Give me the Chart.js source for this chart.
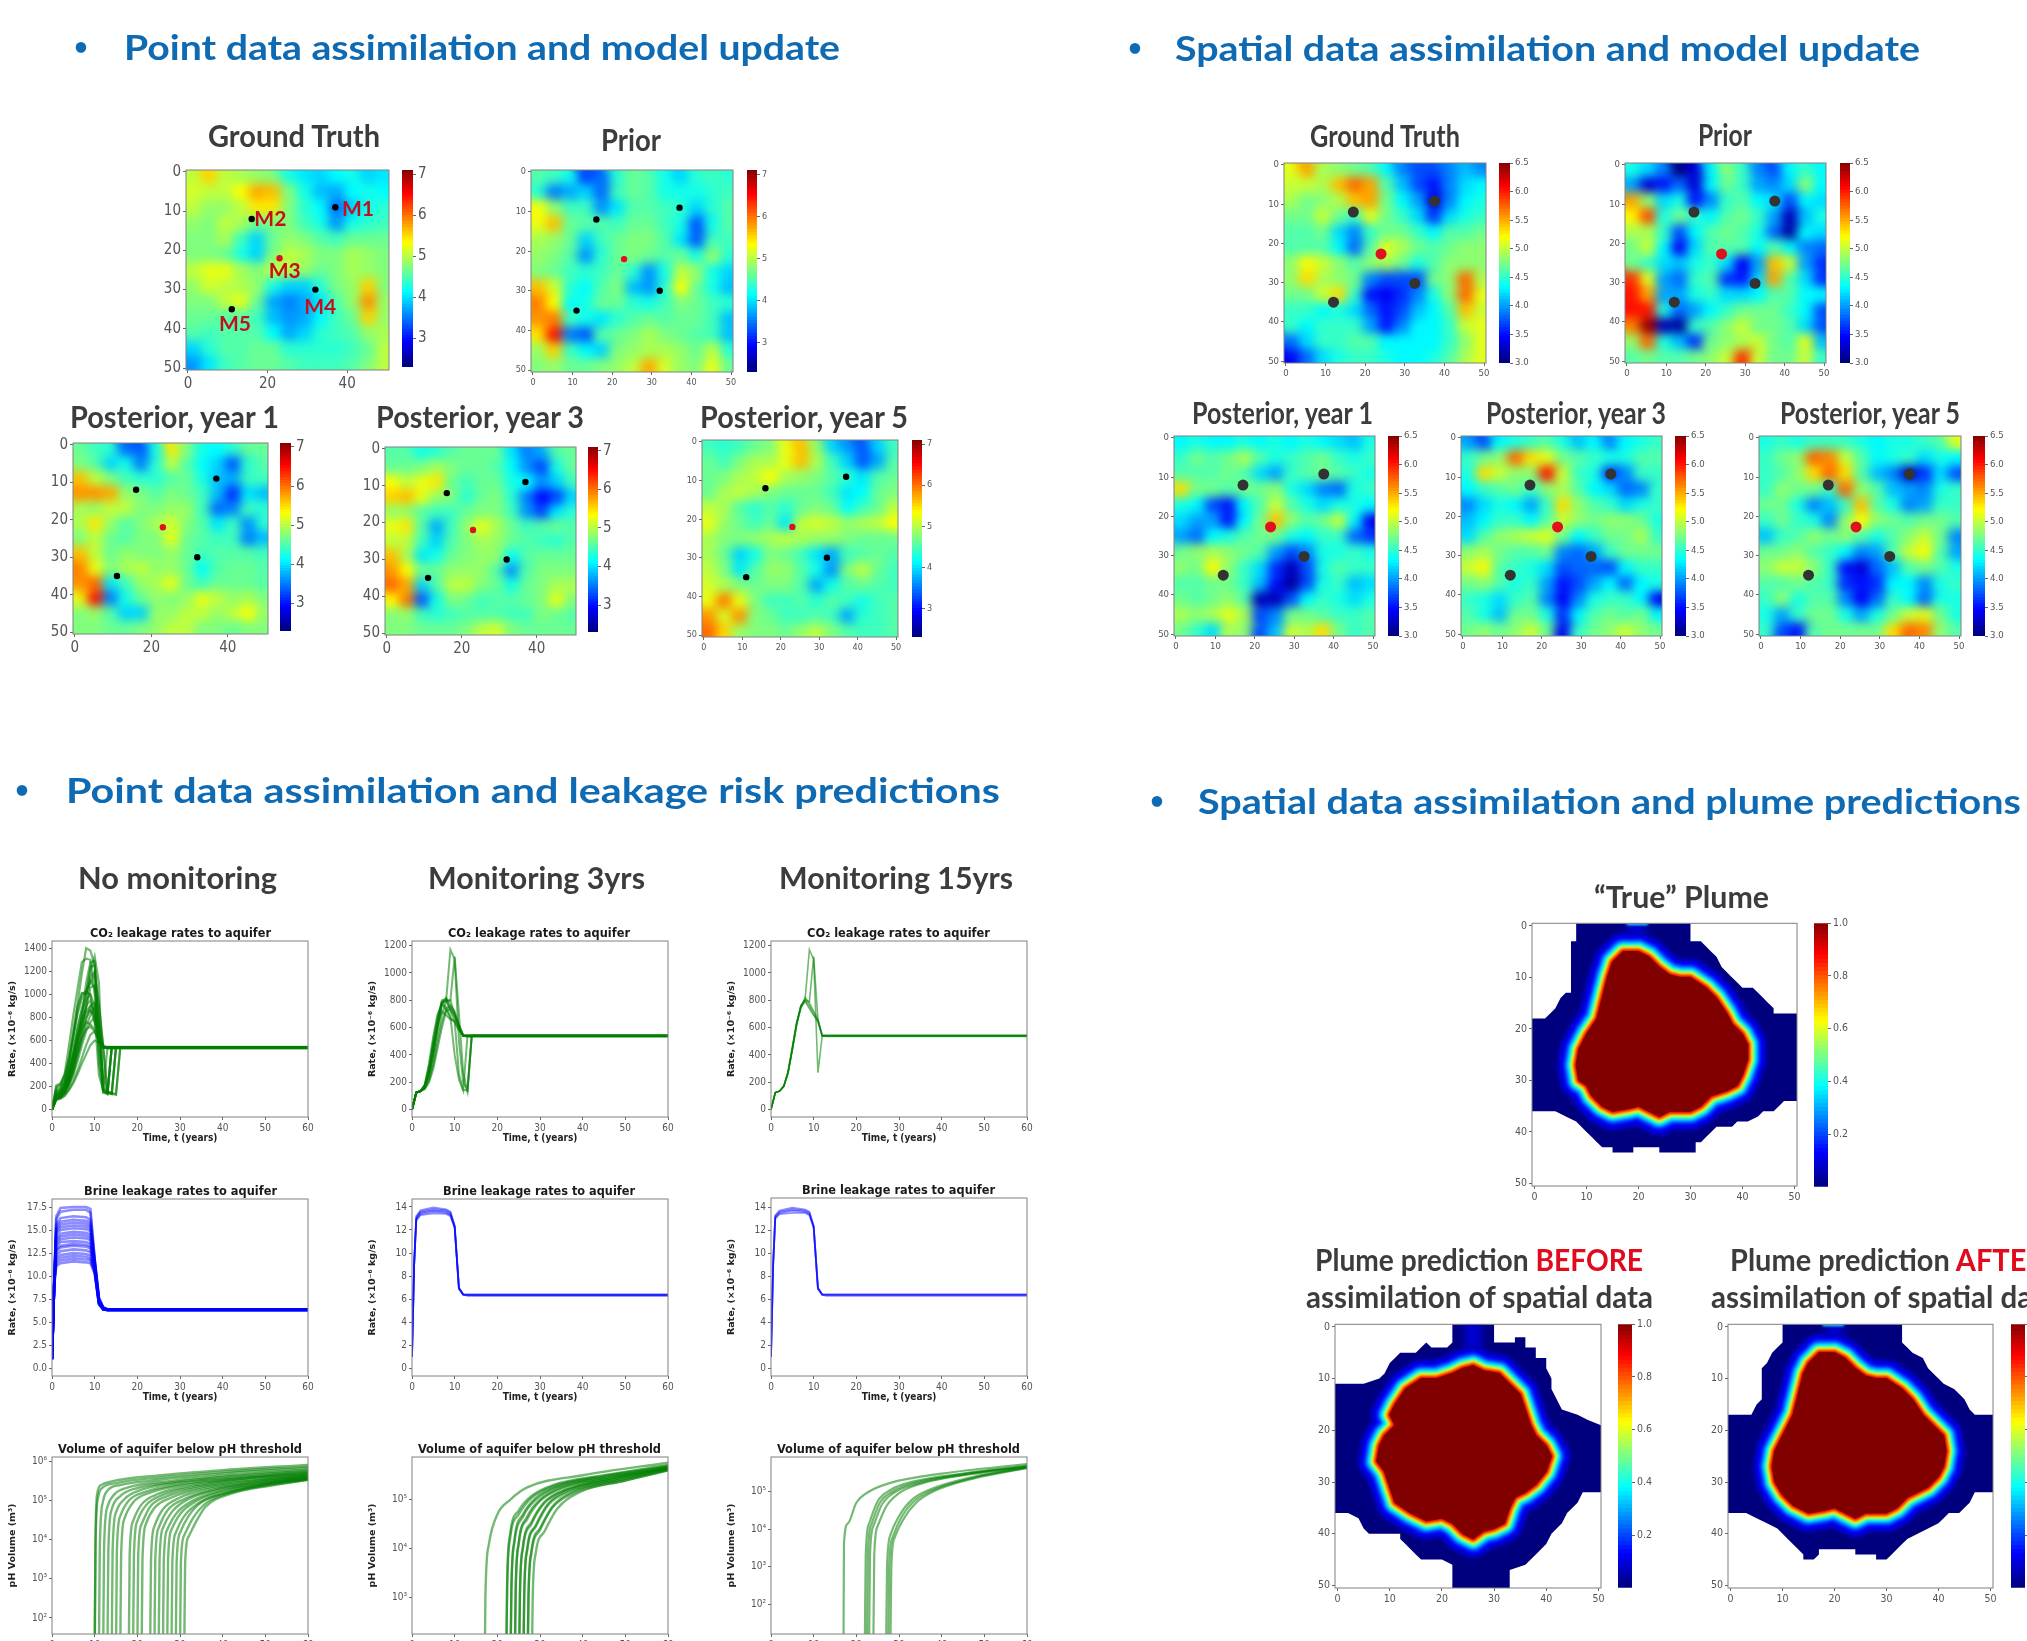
<!DOCTYPE html>
<html>
<head>
<meta charset="utf-8">
<title>Data assimilation and model update</title>
<script src="https://cdn.jsdelivr.net/npm/chart.js@4"></script>
<style>
  html, body { margin: 0; background: #fff; }
  #stage { position: relative; width: 2027px; height: 1641px; overflow: hidden; background: #fff; }
  #stage canvas { position: absolute; }
  .txt { position: absolute; white-space: nowrap; line-height: 1; transform-origin: left center; filter: blur(0.4px); }
</style>
</head>
<body>
<div id="stage"></div>
<script>
// grid nodes of the permeability maps (every 4 cells)
const gridX = [2, 6, 10, 14, 18, 22, 26, 30, 34, 38, 42, 46, 50];
const gridY = [2, 6, 10, 14, 18, 22, 26, 30, 34, 38, 42, 46, 50];

const pointTruth = [
  [5.0,5.5,5.0,4.9,4.8,4.7,4.2,4.0,3.9,4.1,4.2,3.9,4.0],
  [5.1,5.0,5.0,5.3,5.7,5.6,4.7,4.2,3.8,3.7,4.1,4.2,4.1],
  [5.0,4.8,4.8,5.0,5.4,5.4,4.7,4.3,4.1,3.4,3.9,4.2,4.3],
  [4.8,4.7,5.0,4.9,4.6,4.7,4.7,4.4,4.2,3.6,4.2,4.3,4.4],
  [4.7,4.7,4.9,4.4,3.9,4.6,4.8,4.7,4.5,4.4,4.6,4.6,4.6],
  [4.7,4.7,4.6,4.2,3.9,4.7,5.0,4.9,4.7,4.7,4.9,4.8,4.7],
  [5.0,5.2,5.2,4.9,4.7,5.0,5.0,4.8,4.6,4.7,4.9,4.8,4.7],
  [4.8,5.1,5.0,4.9,4.8,4.2,3.9,3.9,4.3,4.7,4.8,5.5,4.7],
  [4.7,4.7,5.0,5.2,4.6,3.7,3.5,3.7,4.0,4.5,4.8,5.8,4.8],
  [4.6,4.6,4.5,4.5,4.4,3.8,3.6,3.7,4.1,4.4,4.6,5.5,4.8],
  [4.5,4.4,4.5,4.5,4.5,4.1,3.7,3.9,4.3,4.4,4.5,4.8,4.9],
  [3.9,4.3,4.5,4.5,4.6,4.6,4.3,4.3,4.3,4.3,4.4,4.6,5.0],
  [3.6,4.0,4.4,4.5,4.6,4.6,4.5,4.4,4.4,4.4,4.5,4.7,5.0],
];
const pointPrior = [
  [4.5,4.4,4.2,3.2,3.4,4.3,4.6,4.5,4.2,3.9,4.3,4.4,4.3],
  [4.3,3.5,3.7,3.9,3.4,4.4,4.6,4.5,4.2,4.2,4.2,4.3,4.4],
  [5.3,4.8,4.4,4.4,3.6,4.0,4.5,4.5,4.4,4.3,3.9,4.3,4.5],
  [5.2,5.6,4.6,4.5,4.5,4.4,4.6,4.6,4.4,4.2,3.3,4.2,4.5],
  [4.9,4.8,4.6,3.9,4.4,4.6,4.7,4.7,4.5,4.0,3.3,4.4,4.4],
  [4.8,4.7,4.5,3.6,4.3,4.6,4.7,4.6,4.5,4.6,4.2,4.8,4.3],
  [4.7,4.6,4.4,4.3,4.4,4.6,4.3,3.6,4.2,5.0,4.8,4.2,3.9],
  [5.6,5.1,4.3,4.1,4.5,4.7,3.8,3.6,4.3,5.3,4.6,4.2,3.8],
  [5.9,5.3,4.1,4.2,4.6,4.6,4.3,4.2,4.4,4.7,4.6,4.4,4.3],
  [5.8,5.9,4.4,4.2,4.0,4.3,4.5,4.6,4.5,4.6,4.6,4.4,3.8],
  [5.4,6.4,3.5,3.3,4.5,4.6,4.7,4.9,4.7,4.6,4.5,4.4,3.8],
  [4.8,5.5,4.4,4.1,3.9,4.7,4.8,4.9,4.9,4.8,4.6,5.0,4.3],
  [4.7,4.8,4.6,4.6,4.7,4.8,5.0,5.7,5.1,4.8,4.7,5.2,4.6],
];
const pointYear1 = [
  [4.6,4.4,4.3,3.4,3.3,4.2,5.4,4.7,4.2,4.1,4.3,4.6,4.6],
  [4.7,4.5,3.9,4.2,3.5,4.3,5.0,4.5,4.1,3.9,3.3,4.3,4.5],
  [5.6,5.0,4.7,4.4,4.3,4.3,4.5,4.6,4.2,3.8,3.7,4.4,4.4],
  [5.8,5.8,5.7,4.8,4.7,4.5,4.7,4.6,4.4,3.8,3.1,4.0,3.8],
  [4.9,4.8,5.0,5.0,4.7,4.7,4.8,4.8,4.4,3.4,3.5,4.4,4.3],
  [4.9,5.4,4.8,4.5,4.7,4.9,5.1,4.7,4.5,4.0,4.4,3.6,4.3],
  [4.7,5.0,4.6,4.5,4.7,4.7,5.2,4.6,4.5,4.4,4.4,3.5,3.8],
  [5.6,5.0,4.6,4.8,4.7,4.7,4.8,4.6,4.4,4.5,4.5,4.5,4.4],
  [5.9,5.2,4.7,4.9,5.0,4.8,4.8,4.6,4.1,4.5,4.6,4.6,4.5],
  [5.8,6.0,4.0,4.4,4.8,4.9,5.2,4.6,4.4,4.6,4.6,4.6,4.5],
  [5.2,6.4,3.5,4.2,4.6,4.8,4.7,4.8,5.2,5.0,4.8,4.9,4.7],
  [4.7,4.8,4.5,3.9,3.9,4.8,4.8,5.0,5.0,4.8,5.0,5.3,4.8],
  [4.7,4.7,4.6,4.6,4.7,4.8,5.0,5.0,4.7,4.7,4.6,4.7,4.7],
];
const pointYear3 = [
  [4.5,4.5,4.2,4.3,4.5,4.6,4.6,4.6,4.0,3.5,3.7,4.5,4.6],
  [4.6,4.6,4.7,4.9,4.7,4.6,4.6,4.5,4.1,3.6,3.2,4.2,4.6],
  [5.3,5.0,5.2,5.4,4.6,4.4,4.6,4.6,4.2,4.1,3.6,3.9,4.4],
  [5.5,5.6,5.2,4.8,4.7,4.3,4.6,4.7,4.3,3.5,2.9,3.2,3.9],
  [4.8,4.8,4.5,4.4,4.4,4.6,4.7,4.7,4.4,3.6,3.2,4.0,4.3],
  [5.2,5.4,4.5,3.7,4.4,4.8,5.2,4.9,4.6,4.4,4.5,4.6,4.5],
  [5.0,5.0,4.4,3.9,4.5,4.7,4.9,4.8,4.6,4.5,4.4,4.3,4.5],
  [5.6,4.9,4.0,4.2,4.6,4.7,4.8,4.8,4.1,4.5,4.6,4.6,4.6],
  [5.8,5.3,4.6,4.6,4.8,4.8,4.8,4.5,3.6,4.5,4.7,4.7,4.7],
  [6.0,5.7,3.9,4.5,5.0,5.0,4.7,4.6,4.2,4.6,4.7,4.9,4.9],
  [5.3,5.9,3.3,4.2,4.7,4.6,4.4,4.5,4.5,4.6,4.7,5.2,4.7],
  [4.7,4.8,4.4,4.3,4.4,4.5,4.5,4.5,4.4,4.4,4.7,4.6,4.5],
  [4.7,4.7,4.6,4.6,4.6,4.7,5.0,5.1,4.7,4.6,4.6,4.6,4.6],
];
const pointYear5 = [
  [4.4,4.3,4.4,4.6,4.7,5.2,5.6,4.8,3.9,3.6,3.3,3.9,4.4],
  [4.6,4.4,4.7,4.9,4.9,5.2,5.6,4.9,4.4,3.9,3.3,3.7,4.5],
  [4.6,4.7,4.9,5.0,5.3,4.9,4.8,4.7,4.5,4.3,4.0,4.5,4.6],
  [4.6,4.9,5.0,4.9,4.7,4.6,4.6,4.6,4.4,4.0,4.1,4.6,4.7],
  [5.0,4.9,4.5,4.3,4.5,4.3,4.6,4.7,4.6,4.1,4.4,4.6,5.0],
  [5.2,4.8,4.6,4.4,4.6,4.0,5.0,5.1,5.0,4.8,4.9,5.0,5.3],
  [4.9,4.7,4.7,4.8,4.9,5.0,4.9,4.8,4.8,4.7,4.6,4.6,4.6],
  [4.9,4.6,3.9,4.2,4.7,4.6,4.4,4.0,3.7,4.4,4.5,4.6,4.5],
  [5.0,4.7,4.0,4.5,4.8,4.8,4.5,4.2,3.6,4.7,5.0,4.6,4.4],
  [5.1,4.9,4.7,4.6,4.7,4.7,4.5,3.7,4.2,4.5,4.6,4.5,4.4],
  [5.2,5.9,5.2,4.7,4.4,4.4,4.5,4.3,4.5,4.4,4.2,4.4,4.5],
  [5.8,5.1,5.8,4.7,4.6,4.4,4.4,4.5,4.4,3.7,4.3,4.4,4.5],
  [6.0,5.5,4.8,4.7,4.7,4.6,4.8,5.0,4.7,4.5,4.4,4.4,4.5],
];
const spatialTruth = [
  [5.1,5.5,4.9,4.8,4.7,4.6,4.3,3.9,3.7,3.7,3.9,4.1,3.9],
  [5.0,5.0,4.9,5.4,5.7,5.5,4.6,4.1,3.7,3.5,3.9,4.2,4.3],
  [4.9,4.7,4.8,4.9,5.4,5.5,4.7,4.3,4.0,3.3,3.9,4.3,4.4],
  [4.7,4.7,5.0,4.7,4.5,5.1,4.7,4.5,4.2,3.6,4.2,4.4,4.5],
  [4.6,4.6,4.7,4.2,3.9,4.5,4.7,4.7,4.5,4.3,4.6,4.6,4.7],
  [4.6,4.6,4.6,4.3,3.8,4.6,5.1,4.9,4.7,4.6,4.7,4.8,4.8],
  [4.8,5.2,5.0,4.8,4.6,4.8,4.9,4.7,4.4,4.6,4.8,4.8,4.8],
  [4.8,5.3,4.9,4.8,4.7,3.9,3.7,3.7,3.7,4.7,4.8,5.7,4.9],
  [4.7,4.7,5.0,5.3,4.5,3.5,3.4,3.6,3.9,4.4,4.8,5.7,5.1],
  [4.5,4.5,4.3,4.4,4.2,3.8,3.5,3.7,4.1,4.3,4.6,5.4,5.0],
  [4.5,4.3,4.5,4.5,4.5,4.0,3.5,3.9,4.3,4.3,4.5,5.0,5.1],
  [3.8,4.2,4.5,4.5,4.6,4.6,4.3,4.3,4.3,4.3,4.5,4.8,5.1],
  [3.4,3.8,4.2,4.4,4.5,4.5,4.4,4.3,4.3,4.4,4.6,4.9,5.1],
];
const spatialPrior = [
  [4.4,4.2,3.9,3.0,3.3,4.3,4.8,4.5,3.9,3.7,4.3,4.5,4.3],
  [4.0,3.3,3.5,3.8,3.3,4.3,4.7,4.5,4.0,3.9,4.2,4.8,4.3],
  [5.5,4.8,4.2,4.4,3.5,3.9,4.5,4.6,4.3,4.2,3.7,4.3,4.2],
  [5.2,5.8,4.4,4.7,4.5,4.3,4.6,4.7,4.5,4.0,3.2,4.1,4.4],
  [4.9,4.9,4.5,3.7,4.3,4.6,4.7,4.6,4.4,3.8,3.1,4.3,4.2],
  [4.7,5.0,4.3,3.4,4.2,4.6,4.6,4.6,4.3,4.6,4.3,3.9,3.8],
  [4.7,4.5,4.2,4.1,4.4,4.5,4.2,3.4,4.0,5.4,5.0,4.0,3.6],
  [5.9,5.1,4.0,3.8,4.5,4.6,3.6,3.5,4.2,5.5,4.6,4.2,3.6],
  [6.0,5.5,4.0,4.0,4.4,4.5,4.2,4.2,4.3,4.6,4.6,4.3,4.3],
  [6.0,6.0,4.4,3.8,4.0,4.3,4.5,4.7,4.7,4.7,4.5,4.3,3.7],
  [5.6,6.4,3.2,3.1,4.5,4.6,4.8,5.0,4.7,4.7,4.6,4.2,3.7],
  [4.8,5.7,4.4,4.1,3.6,4.7,4.8,4.9,5.0,4.7,4.6,5.1,4.1],
  [4.6,4.7,4.6,4.6,4.7,4.8,5.0,5.9,5.0,4.7,4.7,5.0,4.5],
];
const spatialYear1 = [
  [4.3,4.4,4.3,4.3,4.4,4.3,4.4,4.3,4.4,4.3,4.2,4.1,4.4],
  [4.5,4.7,4.6,4.7,4.9,4.6,4.4,4.5,4.6,4.7,4.5,4.4,4.5],
  [4.6,4.6,4.6,4.7,4.6,4.2,4.0,4.5,4.6,4.7,4.6,4.5,4.4],
  [5.3,4.7,4.7,4.6,4.7,4.7,4.8,4.4,4.2,3.9,3.8,4.4,4.5],
  [4.4,4.3,3.7,3.5,4.3,4.6,5.0,4.6,4.4,4.2,4.4,4.4,4.3],
  [4.2,4.0,4.0,3.5,4.3,4.7,5.4,4.8,4.6,4.7,5.0,4.3,3.4],
  [4.0,3.8,4.3,4.4,4.6,4.7,4.7,4.4,4.3,4.5,4.5,3.8,3.6],
  [4.7,4.8,4.9,4.8,4.7,4.6,4.0,3.7,3.9,4.4,4.4,4.5,4.4],
  [4.8,4.7,5.2,4.8,4.5,4.2,3.6,3.2,3.7,4.4,4.6,4.5,4.5],
  [4.6,4.6,4.7,4.7,4.5,4.1,3.5,3.1,3.7,4.4,4.5,4.1,4.2],
  [4.7,4.6,4.7,4.8,4.6,3.2,3.2,3.7,4.3,4.5,4.4,4.2,4.4],
  [4.9,4.8,4.9,5.1,4.9,3.7,3.9,4.7,4.7,4.6,4.5,4.5,4.6],
  [4.7,4.5,4.2,4.9,4.8,3.7,4.1,5.0,4.9,5.3,4.7,4.5,4.6],
];
const spatialYear3 = [
  [4.0,3.7,4.3,4.4,4.5,4.6,4.4,4.1,4.3,3.9,4.3,4.4,4.5],
  [4.5,4.7,4.8,5.7,5.3,5.1,4.7,4.6,4.5,4.4,4.4,4.6,4.6],
  [4.4,5.3,5.0,4.8,4.8,6.0,5.0,4.5,4.4,3.6,3.9,4.5,4.5],
  [4.3,4.5,4.6,4.7,4.5,4.8,4.9,4.6,4.3,4.2,3.8,3.9,4.5],
  [3.9,4.2,4.4,4.3,4.0,4.5,5.3,4.8,4.6,4.5,4.2,4.4,4.5],
  [4.1,4.3,4.5,4.5,4.3,4.6,5.0,4.8,4.7,4.8,4.8,4.7,4.4],
  [4.2,4.6,4.8,4.9,5.0,5.1,4.7,4.3,4.5,4.7,4.7,4.9,4.5],
  [4.8,4.9,4.7,4.6,4.6,4.7,3.9,3.8,4.0,4.5,4.7,4.7,4.7],
  [5.0,5.2,4.6,4.5,4.4,4.2,3.7,3.8,3.8,3.7,4.3,4.5,4.5],
  [4.7,4.8,4.6,4.4,4.5,4.0,3.5,3.7,4.0,4.3,3.8,4.3,4.4],
  [4.5,4.4,4.2,4.5,4.6,3.9,3.4,3.9,4.4,4.5,4.5,4.3,3.4],
  [4.6,4.4,4.1,4.7,4.7,4.4,3.6,4.3,4.6,4.7,4.6,4.7,4.3],
  [4.7,4.8,4.7,4.8,5.0,4.7,3.4,4.5,4.7,4.8,5.0,4.8,4.7],
];
const spatialYear5 = [
  [4.4,4.5,4.4,4.5,4.5,4.5,4.4,4.3,4.4,4.4,4.5,4.6,5.1],
  [4.5,4.7,4.8,5.7,5.6,5.0,4.6,4.3,4.4,4.5,4.2,4.4,4.3],
  [4.5,4.6,4.8,5.3,5.7,5.3,4.6,4.1,3.9,3.2,3.6,4.2,3.7],
  [4.5,4.8,4.7,4.7,4.5,5.7,4.8,4.6,4.1,4.0,3.9,4.4,4.5],
  [4.7,4.7,4.4,3.9,4.1,4.5,5.4,4.6,4.4,3.9,4.0,4.5,4.5],
  [4.5,4.7,4.5,4.4,3.9,4.8,5.2,4.8,4.7,4.6,4.7,4.7,4.6],
  [4.1,4.5,4.6,4.8,4.7,4.8,4.6,4.4,4.6,4.8,5.0,4.7,3.9],
  [4.7,4.7,4.8,4.6,4.5,4.3,3.9,4.0,4.6,5.0,5.2,4.6,4.0],
  [4.8,5.0,5.0,4.8,4.5,3.5,3.3,3.8,4.1,4.6,4.7,4.6,4.4],
  [4.6,4.6,4.7,4.6,4.5,3.6,3.5,3.6,4.3,4.3,3.9,4.4,4.5],
  [4.5,4.8,4.4,4.6,4.6,3.9,3.4,3.8,4.5,4.3,3.8,4.4,4.4],
  [4.4,4.0,4.5,4.7,4.7,4.4,4.0,4.4,4.7,5.0,5.1,4.7,4.4],
  [4.5,3.7,3.5,4.6,4.7,4.7,4.7,4.7,5.3,5.7,5.6,4.8,4.6],
];

// monitoring wells and the injection well
const wellsPoint = [[37, 9], [16, 12], [32, 30], [11, 35]];
const injectorPoint = [[23, 22]];
const wellsSpatial = [[37.5, 9.2], [17, 12], [32.5, 30.2], [12, 35]];
const injectorSpatial = [[24, 22.7]];
const wellNames = [["M1", 42.7, 9.5], ["M2", 20.7, 12], ["M3", 24.3, 25.4], ["M4", 33.2, 34.6], ["M5", 11.8, 38.8]];

// CO2 leakage rates
const co2Time = [0,1,2,3,4,5,6,7,8,9,10,11,12,13,14,15,16,20,60];
const co2None = [
  [0,200,220,320,560,820,1050,1280,1310,1300,1000,500,160,140,540,540,540,540,540],
  [0,180,210,290,460,690,920,1180,1400,1380,1250,400,150,150,140,540,540,540,540],
  [0,120,150,230,400,650,900,1010,1020,1000,760,620,150,135,540,540,540,540,540],
  [0,150,180,260,420,620,860,1010,1000,1200,1330,1100,180,150,140,130,540,540,540],
  [0,100,120,170,260,400,600,820,1100,1280,1290,700,160,540,540,540,540,540,540],
  [0,110,130,180,290,440,620,800,1000,1240,1250,900,540,150,140,540,540,540,540],
  [0,90,110,150,240,360,520,700,900,1150,1200,640,540,160,150,135,540,540,540],
  [0,130,150,210,330,500,700,860,950,1000,900,650,540,535,535,535,535,535,535],
  [0,100,110,150,230,340,480,640,780,900,860,620,545,540,540,540,540,540,540],
  [0,120,140,190,300,430,600,740,840,870,760,600,540,540,540,540,540,540,540],
  [0,95,105,140,210,300,420,560,680,760,800,640,545,540,540,540,540,540,540],
  [0,140,170,230,340,480,620,700,760,740,700,590,540,545,545,545,545,545,545],
  [0,90,100,130,180,250,340,450,560,650,680,610,540,540,540,540,540,540,540],
  [0,85,95,120,170,230,310,400,480,560,600,580,540,535,535,535,535,535,535],
  [0,105,125,170,250,360,500,620,700,720,680,590,535,540,540,540,540,540,540],
  [0,115,135,180,270,390,540,660,800,860,820,640,540,540,540,540,540,540,540],
  [0,125,150,200,310,470,650,780,900,950,820,300,170,140,540,540,540,540,540],
  [0,100,120,165,250,380,560,730,880,1060,1080,780,200,150,540,540,540,540,540],
  [0,210,230,300,440,640,830,960,1040,1100,1180,900,560,540,540,540,540,540,540],
  [0,160,190,250,360,520,720,880,1000,1120,1050,720,545,540,540,540,540,540,540],
  [0,105,115,150,220,320,460,600,720,820,900,700,300,150,135,540,540,540,540],
  [0,135,160,215,320,460,640,790,860,900,930,660,550,535,535,535,535,535,535],
];
const co2ThreeYears = [
  [0,125,135,165,250,400,600,780,820,760,700,620,545,540,540,540,540,540,540],
  [0,125,135,175,300,480,660,800,810,730,680,600,540,535,535,535,535,535,535],
  [0,125,135,185,340,540,700,770,730,670,640,580,540,540,540,540,540,540,540],
  [0,125,135,160,230,360,540,700,790,800,700,600,540,545,545,545,545,545,545],
  [0,125,135,155,215,330,490,640,740,760,720,620,540,540,540,540,540,540,540],
  [0,125,135,170,270,430,620,720,690,660,650,590,540,535,535,535,535,535,535],
  [0,125,135,170,280,440,620,780,800,1170,1100,500,200,140,540,540,540,540,540],
  [0,125,135,165,260,420,610,770,800,800,1120,700,270,135,540,540,540,540,540],
  [0,125,135,175,300,470,640,790,800,720,650,260,145,140,540,540,540,540,540],
  [0,125,135,180,320,510,680,780,750,680,400,220,140,540,540,540,540,540,540],
  [0,125,135,150,200,300,450,600,720,740,690,610,545,540,540,540,540,540,540],
];
const co2FifteenYears = [
  [0,125,135,175,280,460,640,760,800,760,700,640,540,540,540,540,540,540,540],
  [0,125,135,170,270,440,620,740,820,780,720,660,540,535,535,535,535,535,535],
  [0,125,135,170,275,450,630,750,790,740,690,650,545,545,545,545,545,545,545],
  [0,125,135,170,270,440,620,760,810,1170,1100,270,540,540,540,540,540,540,540],
  [0,125,135,170,270,440,620,760,800,790,1120,660,540,540,540,540,540,540,540],
];

// brine leakage rates
const brineTime = [0,0.5,1,2,5,8,9,10,11,12,13,60];
const brineNone = [
  [1,9,16.5,17.4,17.5,17.5,17.3,11.9,7.7,6.6,6.4,6.4],
  [1,9,16.2,17.0,17.2,17.2,16.9,11.8,7.6,6.6,6.4,6.4],
  [1,9,15.6,16.3,16.5,16.4,16.1,11.7,7.5,6.6,6.3,6.3],
  [1,9,15.3,15.9,16.1,16.0,15.8,11.6,7.5,6.6,6.4,6.4],
  [1,9,15.0,15.6,15.8,15.7,15.5,11.5,7.4,6.5,6.4,6.4],
  [1,9,14.8,15.3,15.5,15.4,15.2,11.4,7.4,6.5,6.3,6.3],
  [1,9,14.5,15.0,15.2,15.1,14.9,11.3,7.3,6.5,6.4,6.4],
  [1,9,14.1,14.6,14.8,14.7,14.5,11.2,7.3,6.5,6.4,6.4],
  [1,9,13.8,14.3,14.5,14.4,14.2,11.1,7.3,6.5,6.3,6.3],
  [1,9,13.5,14.0,14.2,14.1,13.9,11.0,7.2,6.5,6.4,6.4],
  [1,9,13.2,13.7,13.8,13.7,13.5,10.9,7.2,6.5,6.4,6.4],
  [1,9,12.9,13.3,13.5,13.4,13.2,10.8,7.1,6.5,6.3,6.3],
  [1,9,12.7,13.1,13.3,13.2,13.0,10.8,7.1,6.4,6.4,6.4],
  [1,9,12.3,12.7,12.9,12.8,12.6,10.7,7.1,6.4,6.4,6.4],
  [1,9,12.0,12.3,12.5,12.4,12.2,10.6,7.0,6.4,6.3,6.3],
  [1,9,11.7,12.0,12.2,12.1,11.9,10.5,7.0,6.4,6.4,6.4],
  [1,9,11.4,11.7,11.9,11.8,11.7,10.4,7.0,6.4,6.4,6.4],
  [1,9,11.1,11.4,11.6,11.5,11.4,10.3,6.9,6.4,6.4,6.4],
];
const brineThreeYears = [
  [1,9,13.2,13.7,13.95,13.8,13.6,12.4,7.0,6.4,6.4,6.4],
  [1,9,13.1,13.6,13.8,13.7,13.5,12.3,7.0,6.4,6.3,6.3],
  [1,9,13.0,13.5,13.7,13.6,13.4,12.3,6.9,6.4,6.4,6.4],
  [1,9,12.9,13.4,13.6,13.5,13.3,12.2,6.9,6.4,6.4,6.4],
  [1,9,12.8,13.3,13.45,13.4,13.2,12.2,6.9,6.4,6.3,6.3],
];
const brineFifteenYears = [
  [1,9,13.3,13.7,13.95,13.8,13.6,12.4,7.0,6.4,6.4,6.4],
  [1,9,13.2,13.6,13.8,13.7,13.5,12.3,7.0,6.4,6.3,6.3],
  [1,9,13.1,13.5,13.7,13.6,13.4,12.3,6.9,6.4,6.4,6.4],
  [1,9,13.0,13.4,13.5,13.5,13.3,12.2,6.9,6.4,6.4,6.4],
];

// aquifer volume below pH threshold, [year, m3] pairs
const volumeNone = [
  [[10,10],[10.2,1e4],[10.6,1.5e5],[11.5,2.5e5],[14,3.1e5],[25,4.4e5],[40,6e5],[60,8.2e5]],
  [[10,10],[10.2,8e3],[10.8,1.2e5],[12,2.2e5],[15,2.8e5],[25,3.9e5],[40,5.4e5],[60,7.4e5]],
  [[11,10],[11.2,6e3],[11.9,9e4],[13,1.8e5],[16,2.5e5],[25,3.4e5],[40,4.9e5],[60,6.8e5]],
  [[12,10],[12.2,6e3],[13,7e4],[14.5,1.4e5],[18,2.2e5],[28,3.2e5],[42,4.5e5],[60,6.2e5]],
  [[13,10],[13.2,5e3],[14,6e4],[16,1.3e5],[20,2.1e5],[28,2.9e5],[42,4.2e5],[60,5.8e5]],
  [[14,10],[14.2,5e3],[15,5e4],[17,1.1e5],[21,1.9e5],[30,2.9e5],[44,4e5],[60,5.5e5]],
  [[15,10],[15.2,5e3],[16,4e4],[18,1e5],[22,1.7e5],[30,2.6e5],[44,3.8e5],[60,5.2e5]],
  [[16,10],[16.2,4e3],[17,3.5e4],[19,9e4],[23,1.6e5],[31,2.5e5],[45,3.7e5],[60,5e5]],
  [[18,10],[18.2,4e3],[19,3e4],[21,8e4],[25,1.5e5],[32,2.3e5],[45,3.6e5],[60,4.8e5]],
  [[19,10],[19.2,4e3],[20,3e4],[22,7.5e4],[26,1.4e5],[33,2.2e5],[46,3.4e5],[60,4.6e5]],
  [[20,10],[20.2,4e3],[21,2.5e4],[23,7e4],[27,1.3e5],[34,2.1e5],[46,3.2e5],[60,4.4e5]],
  [[21,10],[21.2,3e3],[22,2.5e4],[24,6.5e4],[28,1.2e5],[35,2e5],[47,3.1e5],[60,4.3e5]],
  [[23,10],[23.2,3e3],[24,2.2e4],[26,6e4],[30,1.2e5],[36,1.9e5],[48,3e5],[60,4.2e5]],
  [[24,10],[24.2,3e3],[25,2e4],[27,5.5e4],[31,1.1e5],[37,1.8e5],[48,2.9e5],[60,4e5]],
  [[25,10],[25.2,3e3],[26,2e4],[28,5e4],[32,1.1e5],[38,1.8e5],[49,2.8e5],[60,3.9e5]],
  [[26,10],[26.2,3e3],[27,1.8e4],[29,4.5e4],[33,1e5],[39,1.7e5],[49,2.7e5],[60,3.8e5]],
  [[27,10],[27.2,3e3],[28,1.8e4],[30,4.5e4],[34,1e5],[40,1.7e5],[50,2.7e5],[60,3.7e5]],
  [[28,10],[28.2,2.5e3],[29,1.5e4],[31,4e4],[35,9.5e4],[41,1.6e5],[50,2.6e5],[60,3.6e5]],
  [[29,10],[29.2,2.5e3],[30,1.5e4],[32,4e4],[35,9e4],[41,1.6e5],[50,2.5e5],[60,3.5e5]],
  [[30,10],[30.2,2.5e3],[31,1.3e4],[33,3.5e4],[36,8.5e4],[42,1.6e5],[51,2.5e5],[60,3.4e5]],
  [[31,10],[31.2,2.5e3],[32,1.2e4],[34,3.2e4],[36,7e4],[42,1.5e5],[51,2.4e5],[60,3.4e5]],
];
const volumeThreeYears = [
  [[17,10],[17.2,1e3],[18,1.2e4],[20,5e4],[23,1e5],[27,1.8e5],[40,3.2e5],[60,5.8e5]],
  [[22,10],[22.3,2e3],[23,2e4],[25,6e4],[28,1.2e5],[33,2e5],[45,3.2e5],[60,5.2e5]],
  [[22,10],[22.3,1.5e3],[23,1.6e4],[25,5e4],[28,1.1e5],[33,1.9e5],[45,3.1e5],[60,5e5]],
  [[23,10],[23.3,1.5e3],[24,1.5e4],[26,5e4],[29,1.1e5],[34,1.9e5],[45,3e5],[60,4.8e5]],
  [[23,10],[23.3,1.5e3],[24,1.3e4],[26,4.5e4],[29,1e5],[34,1.8e5],[46,2.9e5],[60,4.7e5]],
  [[24,10],[24.3,1.5e3],[25,1.3e4],[27,4.5e4],[30,1e5],[35,1.8e5],[46,2.9e5],[60,4.6e5]],
  [[24,10],[24.3,1.2e3],[25,1.2e4],[27,4e4],[30,9.5e4],[35,1.7e5],[47,2.8e5],[60,4.5e5]],
  [[25,10],[25.3,1.2e3],[26,1.1e4],[28,3.5e4],[31,9e4],[36,1.6e5],[47,2.8e5],[60,4.5e5]],
  [[25,10],[25.3,1.2e3],[26,1e4],[28,3.2e4],[31,8.5e4],[36,1.6e5],[48,2.7e5],[60,4.4e5]],
  [[26,10],[26.3,1.2e3],[27,1e4],[29,3e4],[32,8.5e4],[37,1.6e5],[48,2.7e5],[60,4.4e5]],
  [[26,10],[26.3,1e3],[27,9e3],[29,2.8e4],[32,8e4],[37,1.5e5],[49,2.6e5],[60,4.3e5]],
  [[27,10],[27.3,1e3],[28,9e3],[30,2.6e4],[33,7.5e4],[38,1.5e5],[49,2.6e5],[60,4.2e5]],
  [[27,10],[27.3,1e3],[28,8e3],[30,2.4e4],[33,7e4],[38,1.4e5],[50,2.5e5],[60,4.1e5]],
  [[28,10],[28.3,1e3],[29,8e3],[31,2.2e4],[34,6.5e4],[39,1.4e5],[50,2.5e5],[60,4e5]],
];
const volumeFifteenYears = [
  [[17,10],[17.1,4e3],[18,1.4e4],[20,5e4],[23,1e5],[28,1.7e5],[40,3e5],[60,5.4e5]],
  [[22,10],[22.2,2e3],[23,1.4e4],[25,5.5e4],[28,1.1e5],[33,1.8e5],[45,3e5],[60,4.9e5]],
  [[22.5,10],[22.7,2e3],[23.5,1.3e4],[25.5,5e4],[28.5,1e5],[33.5,1.7e5],[45,2.9e5],[60,4.7e5]],
  [[23,10],[23.2,2e3],[24,1.2e4],[26,4.5e4],[29,9.5e4],[34,1.6e5],[45,2.8e5],[60,4.6e5]],
  [[24,10],[24.2,2e3],[25,1.2e4],[27,4e4],[30,9e4],[35,1.6e5],[46,2.8e5],[60,4.5e5]],
  [[27,10],[27.2,1e3],[28,7e3],[30,2.2e4],[33,6e4],[37,1.1e5],[47,2.4e5],[60,4.4e5]],
  [[27.5,10],[27.7,1e3],[28.5,6e3],[30.5,2e4],[33.5,5.5e4],[38,1.1e5],[48,2.4e5],[60,4.3e5]],
  [[28,10],[28.2,1e3],[29,6e3],[31,1.8e4],[34,5e4],[38,1e5],[48,2.3e5],[60,4.2e5]],
];

// plume outlines in grid cells: the masked region and the saturated core
const truePlumeMask = [[8,-0.5],[30,-0.5],[30,3],[32,3],[33,4],[34,5],[35,6],[36,8],[37,9],[38,10],[39,11],[40,12],[42,12],[43,13],[44,14],[45,15],[46,16],[46,17],[50.5,17],[50.5,34],[48,34],[47,35],[46,36],[44,36],[43,37],[41,38],[39,38],[38,39],[35,39],[34,40],[33,41],[32,42],[31,42],[31,44],[24,44],[24,43],[19,43],[19,44],[15,44],[15,43],[13,43],[12,42],[11,41],[10,40],[9,39],[8,38],[6,37],[4,36],[-0.5,36],[-0.5,18],[2,18],[3,17],[4,16],[5,14],[6,13],[7,13],[7,3],[8,3],[8,-0.5]];
const truePlumeCore = [[20,5],[22,6],[24,8],[26,9.5],[28,10],[30,10],[33,12],[35,14],[37,17],[38,19],[40,21],[41,23],[41,26],[40,29],[39,31],[37,32],[34,33],[32,35],[30,36],[28,36],[26,36],[24,37],[22,36],[20,35],[18,35.5],[15,36],[13,35],[11,33],[10,31],[8.5,30],[8,27],[8.5,24],[10,21],[12,18],[13,14],[14,10],[15,7],[17,5],[20,5]];
const beforePlumeMask = [[22,-0.5],[30,-0.5],[30,3],[34,3],[34,2],[36,2],[36,4],[38,4],[38,6],[40,6],[40,8],[41,10],[41,12],[42,14],[43,16],[46,17],[48,18],[50.5,19],[50.5,32],[47,32],[46,34],[44,36],[43,38],[41,40],[40,42],[38,44],[36,46],[33,47],[33,50.5],[22,50.5],[22,46],[20,45],[16,45],[15,44],[14,43],[13,42],[12,41],[12,40],[6,40],[5,39],[4,37],[2,36],[-0.5,36],[-0.5,11],[5,11],[8,10],[9,9],[10,7],[11,6],[12,5],[15,5],[16,4],[17,3],[18,4],[21,4],[22,3],[22,-0.5]];
const beforePlumeCore = [[26,7.5],[28,8.5],[31,9],[33,11],[35,13],[36,16],[37,19],[38,21],[40,23],[41,25],[40,28],[38,30.5],[36,32],[34,33],[33,35],[32,38],[30,39],[28,39.5],[26,41],[24,40],[22,38],[20,37],[17,37.5],[14,36],[11,34],[10,31],[9,28],[7.5,26],[8,23],[9,21],[11,19],[10,17],[11,15],[13,12],[16,10],[19,10],[22,9],[24,8],[26,7.5]];
const afterPlumeMask = [[10,-0.5],[33,-0.5],[33,3],[34,4],[35,5],[37,6],[38,8],[39,9],[40,10],[41,11],[43,12],[44,13],[45,14],[46,16],[47,17],[50.5,17],[50.5,32],[47,32],[46,34],[45,35],[44,36],[42,36],[41,37],[40,38],[38,39],[36,40],[34,41],[33,42],[32,43],[31,44],[30,45],[28,45],[28,44],[24,44],[24,43],[17,43],[17,44],[16,45],[14,45],[14,44],[13,43],[11,41],[10,40],[9,39],[7,38],[5,37],[3,36],[-0.5,36],[-0.5,17],[4,17],[5,15],[6,14],[6,8],[7,7],[8,5],[9,4],[10,3],[10,-0.5]];
const afterPlumeCore = [[20,5],[22,6],[24,8],[26,9.5],[28,10],[30,10],[33,12],[35,14],[37,17],[39,19],[41,21],[41.5,24],[41,27],[40,29],[38,31],[36,32],[34,33],[32,35],[30,36],[28,36],[26,36],[24,37],[22,36],[20,35],[18,35.5],[15,36],[12,34.5],[10,32.5],[8.5,30],[8,27],[8.5,24],[10,21],[12,17],[13,13],[14,9],[15,7],[17,5],[20,5]];
const truePlumeInlet = [[19.5,-0.5],[19.5,5]];
const beforePlumeInlet = [[26,-0.5],[26,8]];
const afterPlumeInlet = [[20,-0.5],[20,5]];

const stage = document.getElementById("stage");
const GREY = "#555";
const NARROW = "'Liberation Sans Narrow','DejaVu Sans Condensed',sans-serif";

function jet(n) {
  const c = (v) => Math.round(255 * Math.max(0, Math.min(1, 1.5 - Math.abs(v))));
  return `rgb(${c(4 * n - 3)},${c(4 * n - 2)},${c(4 * n - 1)})`;
}

// box around the axes
const framePlugin = {
  id: "frame",
  afterDraw(chart) {
    const a = chart.chartArea, ctx = chart.ctx;
    ctx.save();
    ctx.strokeStyle = "#808080";
    ctx.lineWidth = 1;
    ctx.strokeRect(a.left, a.top, a.right - a.left, a.bottom - a.top);
    ctx.restore();
  },
};

// soft edges for datasets with a blurPx key
const blurPlugin = {
  id: "softEdges",
  beforeDatasetDraw(chart, args) {
    const px = chart.data.datasets[args.index].blurPx;
    chart.ctx.save();
    if (px) chart.ctx.filter = `blur(${px}px)`;
  },
  afterDatasetDraw(chart) {
    chart.ctx.restore();
  },
};

function addCanvas(x, y, w, h) {
  const c = document.createElement("canvas");
  c.width = w;
  c.height = h;
  c.style.left = x + "px";
  c.style.top = y + "px";
  stage.appendChild(c);
  return c;
}

function fixedTicks(values, fontSpec, fmt) {
  return {
    afterBuildTicks: (s) => { s.ticks = values.map((v) => ({ value: v })); },
    ticks: {
      autoSkip: false, maxRotation: 0, minRotation: 0, padding: 2,
      color: GREY, font: fontSpec,
      callback: fmt || ((v) => String(v)),
    },
    grid: { drawOnChartArea: false, tickLength: 3, color: "#666" },
    border: { display: false },
  };
}

function makeChart(rect, m, type, data, scales, plugins) {
  const canvas = addCanvas(rect[0] - m.l, rect[1] - m.t, rect[2] + m.l + m.r, rect[3] + m.t + m.b);
  const options = {
    responsive: false,
    animation: false,
    events: [],
    layout: { autoPadding: false, padding: { top: m.t, right: m.axisRight ? 0 : m.r, left: 0, bottom: m.axisRight ? m.b : 0 } },
    plugins: { legend: { display: false }, tooltip: { enabled: false } },
    scales,
  };
  return new Chart(canvas, { type, data, options, plugins });
}

function imageAxes(rect, m, xTicks, fontSpec) {
  return {
    x: Object.assign({ type: "linear", position: "bottom", min: -0.5, max: 50.5,
      afterFit: (s) => { s.height = m.b; } }, fixedTicks(xTicks, fontSpec)),
    y: Object.assign({ type: "linear", reverse: true, min: -0.5, max: 50.5,
      afterFit: (s) => { s.width = m.l; } }, fixedTicks([0, 10, 20, 30, 40, 50], fontSpec)),
  };
}

function fieldMap(rect, grid, range, wells, injector, xTicks, fontSize, markerR, wellColor, names) {
  const m = { l: 32, r: 10, t: 8, b: 24 };
  const fontSpec = { family: NARROW, size: fontSize };
  const cells = [], colors = [];
  grid.forEach((row, i) => row.forEach((v, j) => {
    cells.push({ x: gridX[j], y: gridY[i] });
    colors.push(jet((v - range[0]) / (range[1] - range[0])));
  }));
  const cellPx = 4 * Math.max(rect[2], rect[3]) / 51;
  const wellPoints = wells.concat(injector).map((p) => ({ x: p[0], y: p[1] }));
  const wellColors = wells.map(() => wellColor).concat(injector.map(() => "#e0101c"));
  const datasets = [
    { data: wellPoints, pointRadius: markerR, pointBackgroundColor: wellColors, pointBorderWidth: 0, clip: false, blurPx: 0.5 },
    { data: cells, pointRadius: cellPx * 0.72, pointBackgroundColor: colors, pointBorderWidth: 0, clip: 0, blurPx: 5.5 },
    { data: cells, pointStyle: "rect", pointRadius: cellPx * 2 / Math.SQRT2, pointBackgroundColor: colors, pointBorderWidth: 0, clip: 0, blurPx: 3 },
  ];
  const plugins = [blurPlugin, framePlugin];
  if (names) {
    plugins.push({
      id: "wellNames",
      afterDatasetsDraw(chart) {
        const ctx = chart.ctx;
        ctx.save();
        ctx.fillStyle = "#c40f1e";
        ctx.font = "bold 21px Lato, sans-serif";
        ctx.textAlign = "center";
        ctx.textBaseline = "middle";
        names.forEach((n) => ctx.fillText(n[0], chart.scales.x.getPixelForValue(n[1]), chart.scales.y.getPixelForValue(n[2])));
        ctx.restore();
      },
    });
  }
  makeChart(rect, m, "scatter", { datasets }, imageAxes(rect, m, xTicks, fontSpec), plugins);
}

function colorBar(rect, range, ticks, fontSize, digits) {
  const m = { l: 0, r: 34, t: 8, b: 8, axisRight: true };
  const levels = 64, datasets = [];
  for (let i = 0; i < levels; i++) {
    const lo = range[0] + (range[1] - range[0]) * i / levels;
    const hi = range[0] + (range[1] - range[0]) * (i + 1.3) / levels;
    datasets.push({ data: [[lo, Math.min(hi, range[1])]], backgroundColor: jet((i + 0.5) / levels), barPercentage: 1, categoryPercentage: 1, borderWidth: 0, grouped: false });
  }
  const scales = {
    x: { display: false },
    y: Object.assign({ type: "linear", position: "right", min: range[0], max: range[1],
      afterFit: (s) => { s.width = m.r; } },
      fixedTicks(ticks, { family: NARROW, size: fontSize }, (v) => v.toFixed(digits))),
  };
  makeChart(rect, m, "bar", { labels: [""], datasets }, scales, []);
}

function plumeMap(rect, mask, core, inlet, xTicks, fontSize, withStrip) {
  const m = { l: 32, r: 10, t: 8, b: 24 };
  const pts = (a) => a.map((p) => ({ x: p[0], y: p[1] }));
  // drawn back to front: Chart.js paints the lowest order last
  const rings = [[20,.05],[17,.09],[14.5,.13],[12.5,.19],[10.5,.27],[9,.33],[7.5,.4],[6.2,.5],[5,.6],[3.8,.7],[2.6,.8],[1.4,.9]];
  const line = (data, extra) => Object.assign({ data: pts(data), showLine: true, pointRadius: 0, clip: 0, borderWidth: 0, borderJoinStyle: "round", borderCapStyle: "round" }, extra);
  const datasets = [
    line(core, { fill: "shape", backgroundColor: "#800000", borderColor: "#800000", borderWidth: 1, order: 0, blurPx: 0.6 }),
  ];
  rings.slice().reverse().forEach((r, i) => {
    datasets.push(line(core, { borderColor: jet(r[1]), borderWidth: r[0] * 2, order: i + 1, blurPx: 0.9 }));
  });
  if (withStrip) datasets.push(line([[18, -0.5], [21.5, -0.5]], { borderColor: "#29d0ff", borderWidth: 4, order: 20, blurPx: 1 }));
  datasets.push(line(inlet, { borderColor: "#0000d8", borderWidth: 16, order: 30, blurPx: 5 }));
  datasets.push(line(mask, { fill: "shape", backgroundColor: "#00007f", borderColor: "#00007f", borderWidth: 0, order: 40 }));
  const scales = imageAxes(rect, m, xTicks, { family: NARROW, size: fontSize });
  makeChart(rect, m, "scatter", { datasets }, scales, [blurPlugin, framePlugin]);
}

function ensemble(rect, curves, yRange, yTicks, yTitle, color, width, opts) {
  opts = opts || {};
  const m = { l: 45, r: 14, t: 8, b: 27 };
  const tickFont = { family: NARROW, size: 10 };
  const datasets = curves.map((c) => ({
    data: c,
    showLine: true,
    pointRadius: 0,
    borderColor: color,
    borderWidth: width,
    cubicInterpolationMode: opts.smooth ? "monotone" : "default",
    clip: 0,
    blurPx: 0.3,
  }));
  const scales = {
    x: Object.assign({ type: "linear", min: 0, max: 60,
      afterFit: (s) => { s.height = m.b; },
      title: { display: true, text: "Time, t (years)", color: "#222", padding: 0,
        font: { family: "'DejaVu Sans Condensed','DejaVu Sans',sans-serif", size: 10, weight: "bold" } } },
      fixedTicks([0, 10, 20, 30, 40, 50, 60], tickFont)),
    y: Object.assign({ type: opts.log ? "logarithmic" : "linear", min: yRange[0], max: yRange[1],
      afterFit: (s) => { s.width = m.l; },
      title: { display: true, text: yTitle, color: "#222", padding: 0,
        font: { family: "'DejaVu Sans',sans-serif", size: 9.5, weight: "bold" } } },
      fixedTicks(yTicks, tickFont, opts.fmt)),
  };
  makeChart(rect, m, "scatter", { datasets }, scales, [blurPlugin, framePlugin]);
}

function onGrid(times, rows) {
  return rows.map((r) => r.map((v, i) => ({ x: times[i], y: v })));
}
function fromPairs(rows) {
  return rows.map((r) => r.map((p) => ({ x: p[0], y: p[1] })));
}

// text placed by left edge, right edge and vertical centre
function label(text, x0, x1, y, css, color) {
  const d = document.createElement("div");
  d.className = "txt";
  d.innerHTML = text;
  d.style.font = css;
  d.style.color = color;
  d.style.lineHeight = "1";
  stage.appendChild(d);
  const box = d.getBoundingClientRect();
  d.style.left = x0 + "px";
  d.style.top = y - box.height / 2 + "px";
  if (x1 !== null) d.style.transform = `scaleX(${(x1 - x0) / box.width})`;
}

const HEAD = "bold 35px Lato, sans-serif", BLUE = "#0e6ab2";
const SUB = "bold 30px Lato, sans-serif", DARK = "#3c3c3c";
const SMALL = "bold 12px 'DejaVu Sans Condensed','DejaVu Sans',sans-serif", INK = "#1a1a1a";

const headings = [
  ["Point data assimilation and model update", 124, 840, 46, 78],
  ["Spatial data assimilation and model update", 1175, 1920, 47, 1132],
  ["Point data assimilation and leakage risk predictions", 66, 1000, 789, 19],
  ["Spatial data assimilation and plume predictions", 1198, 2021, 800, 1154],
];
headings.forEach((h) => {
  label(h[0], h[1], h[2], h[3], HEAD, BLUE);
  label("•", h[4] - 4, null, h[3], "bold 24px Lato, sans-serif", BLUE);
});

const panelTitles = [
  ["Ground Truth", 208, 380, 135], ["Prior", 601, 661, 139],
  ["Posterior, year 1", 70, 279, 416], ["Posterior, year 3", 376, 584, 416], ["Posterior, year 5", 700, 908, 416],
  ["Ground Truth", 1310, 1460, 135], ["Prior", 1698, 1752, 134],
  ["Posterior, year 1", 1192, 1373, 412], ["Posterior, year 3", 1486, 1666, 412], ["Posterior, year 5", 1780, 1960, 412],
  ["No monitoring", 78, 277, 877], ["Monitoring 3yrs", 428, 645, 877], ["Monitoring 15yrs", 779, 1013, 877],
  ["“True” Plume", 1594, 1769, 896],
  ["Plume prediction <span style=\"color:#e00b1c\">BEFORE</span>", 1315, 1643, 1259],
  ["assimilation of spatial data", 1306, 1653, 1296],
  ["Plume prediction <span style=\"color:#e00b1c\">AFTER</span>", 1730, 2045, 1259],
  ["assimilation of spatial data", 1711, 2058, 1296],
];
panelTitles.forEach((t) => label(t[0], t[1], t[2], t[3], SUB, DARK));

const axesTitles = [
  ["CO₂ leakage rates to aquifer", 90, 271, 933], ["CO₂ leakage rates to aquifer", 448, 630, 933], ["CO₂ leakage rates to aquifer", 807, 990, 933],
  ["Brine leakage rates to aquifer", 84, 277, 1191], ["Brine leakage rates to aquifer", 443, 635, 1191], ["Brine leakage rates to aquifer", 802, 995, 1190],
  ["Volume of aquifer below pH threshold", 58, 302, 1449], ["Volume of aquifer below pH threshold", 418, 661, 1449], ["Volume of aquifer below pH threshold", 777, 1020, 1449],
];
axesTitles.forEach((t) => label(t[0], t[1], t[2], t[3], SMALL, INK));

// point data maps
const rangeA = [2.3, 7.1], rangeB = [3.0, 6.5];
const ticksA = [3, 4, 5, 6, 7], ticksB = [3, 3.5, 4, 4.5, 5, 5.5, 6, 6.5];
const wide = [0, 20, 40], all = [0, 10, 20, 30, 40, 50];
fieldMap([186, 167, 203, 203], pointTruth, rangeA, wellsPoint, injectorPoint, wide, 15, 3.2, "#000", wellNames);
colorBar([402, 167, 11, 203], rangeA, ticksA, 15, 0);
fieldMap([531, 170, 202, 202], pointPrior, rangeA, wellsPoint, injectorPoint, all, 9, 3.2, "#000");
colorBar([747, 170, 10, 202], rangeA, ticksA, 9, 0);
fieldMap([73, 440, 195, 194], pointYear1, rangeA, wellsPoint, injectorPoint, wide, 15, 3.2, "#000");
colorBar([280, 440, 11, 194], rangeA, ticksA, 15, 0);
fieldMap([385, 444, 191, 191], pointYear3, rangeA, wellsPoint, injectorPoint, wide, 15, 3.2, "#000");
colorBar([588, 444, 10, 191], rangeA, ticksA, 15, 0);
fieldMap([702, 440, 196, 197], pointYear5, rangeA, wellsPoint, injectorPoint, all, 9, 3.2, "#000");
colorBar([912, 440, 10, 197], rangeA, ticksA, 9, 0);

// spatial data maps
fieldMap([1284, 163, 202, 200], spatialTruth, rangeB, wellsSpatial, injectorSpatial, all, 9.5, 5.5, "#333");
colorBar([1499, 163, 11, 200], rangeB, ticksB, 9.5, 1);
fieldMap([1625, 163, 201, 200], spatialPrior, rangeB, wellsSpatial, injectorSpatial, all, 9.5, 5.5, "#333");
colorBar([1840, 163, 10, 200], rangeB, ticksB, 9.5, 1);
fieldMap([1174, 436, 201, 200], spatialYear1, rangeB, wellsSpatial, injectorSpatial, all, 9.5, 5.5, "#333");
colorBar([1388, 436, 11, 200], rangeB, ticksB, 9.5, 1);
fieldMap([1461, 436, 201, 200], spatialYear3, rangeB, wellsSpatial, injectorSpatial, all, 9.5, 5.5, "#333");
colorBar([1675, 436, 11, 200], rangeB, ticksB, 9.5, 1);
fieldMap([1759, 436, 202, 200], spatialYear5, rangeB, wellsSpatial, injectorSpatial, all, 9.5, 5.5, "#333");
colorBar([1973, 436, 12, 200], rangeB, ticksB, 9.5, 1);

// plumes
const rangeP = [0, 1], ticksP = [0.2, 0.4, 0.6, 0.8, 1.0];
plumeMap([1532, 923, 265, 263], truePlumeMask, truePlumeCore, truePlumeInlet, all, 10.5, true);
colorBar([1814, 923, 14, 264], rangeP, ticksP, 10.5, 1);
plumeMap([1335, 1324, 266, 264], beforePlumeMask, beforePlumeCore, beforePlumeInlet, all, 10.5, false);
colorBar([1618, 1324, 14, 264], rangeP, ticksP, 10.5, 1);
plumeMap([1728, 1324, 265, 264], afterPlumeMask, afterPlumeCore, afterPlumeInlet, all, 10.5, true);
colorBar([2011, 1324, 14, 264], rangeP, ticksP, 10.5, 1);

// leakage ensembles
const green = "rgba(0,128,0,0.55)", blue = "rgba(0,0,255,0.45)";
const rateTitle = "Rate, (×10⁻⁶ kg/s)", volTitle = "pH Volume (m³)";
const powers = (v) => "10" + String(Math.round(Math.log10(v))).replace(/\d/g, (d) => "⁰¹²³⁴⁵⁶⁷⁸⁹"[d]);
ensemble([52, 941, 256, 176], onGrid(co2Time, co2None), [-63, 1463], [0, 200, 400, 600, 800, 1000, 1200, 1400], rateTitle, green, 2.2);
ensemble([412, 941, 256, 176], onGrid(co2Time, co2ThreeYears), [-54, 1234], [0, 200, 400, 600, 800, 1000, 1200], rateTitle, green, 2);
ensemble([771, 941, 256, 176], onGrid(co2Time, co2FifteenYears), [-54, 1234], [0, 200, 400, 600, 800, 1000, 1200], rateTitle, green, 1.6);
ensemble([52, 1199, 256, 177], onGrid(brineTime, brineNone), [-0.83, 18.37], [0, 2.5, 5, 7.5, 10, 12.5, 15, 17.5], rateTitle, blue, 2.6, { fmt: (v) => v.toFixed(1) });
ensemble([412, 1199, 256, 177], onGrid(brineTime, brineThreeYears), [-0.67, 14.69], [0, 2, 4, 6, 8, 10, 12, 14], rateTitle, blue, 1.8);
ensemble([771, 1198, 256, 178], onGrid(brineTime, brineFifteenYears), [-0.67, 14.8], [0, 2, 4, 6, 8, 10, 12, 14], rateTitle, blue, 1.8);
ensemble([52, 1457, 256, 177], fromPairs(volumeNone), [39, 1.3e6], [100, 1e3, 1e4, 1e5, 1e6], volTitle, green, 2.4, { log: true, smooth: true, fmt: powers });
ensemble([412, 1457, 256, 177], fromPairs(volumeThreeYears), [174, 7.6e5], [1e3, 1e4, 1e5], volTitle, green, 2.4, { log: true, smooth: true, fmt: powers });
ensemble([771, 1457, 256, 177], fromPairs(volumeFifteenYears), [16, 8.3e5], [100, 1e3, 1e4, 1e5], volTitle, green, 2.2, { log: true, smooth: true, fmt: powers });
</script>
</body>
</html>
